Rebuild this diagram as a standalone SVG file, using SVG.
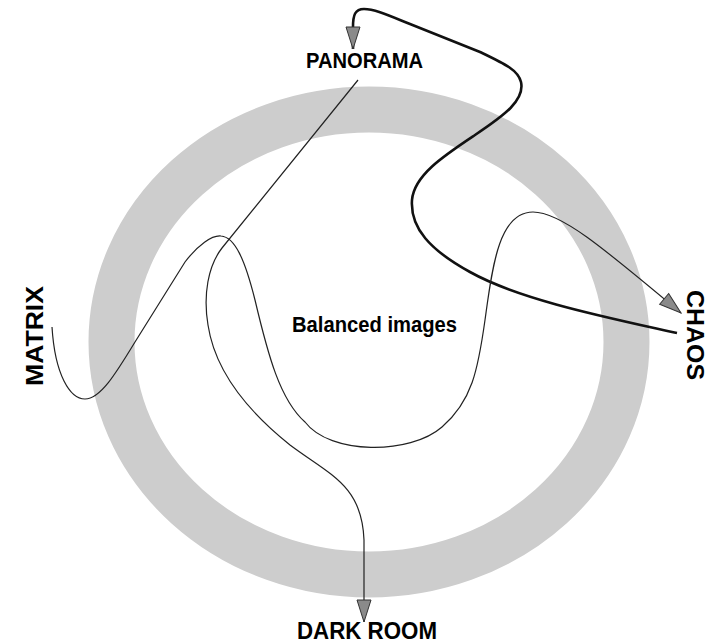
<svg xmlns="http://www.w3.org/2000/svg" width="719" height="644" viewBox="0 0 719 644">
<style>
.lbl{font-family:"Liberation Sans",Arial,sans-serif;font-weight:bold;fill:#000;}
.thin{fill:none;stroke:#222;stroke-width:1.2;}
.thick{fill:none;stroke:#111;stroke-width:2.6;}
</style>
<defs>
<marker id="arr" markerUnits="userSpaceOnUse" markerWidth="24" markerHeight="16" viewBox="-1 -1 24 16" refX="22" refY="7" orient="auto">
<path d="M0,0 L22,7 L0,14 Z" fill="#8a8a8a" stroke="#333" stroke-width="1"/>
</marker>
</defs>
<rect width="719" height="644" fill="#fff"/>
<g id="ring">
<ellipse cx="369" cy="342" rx="257.5" ry="232.5" fill="none" stroke="#cdcdcd" stroke-width="46"/>
</g>
<g id="connectors">
<path class="thick" marker-end="url(#arr)" d="M677,333 C610,318 520,300 470,272 C430,250 410,228 412,200 C414,175 445,155 475,135 C505,115 525,100 521,82 C518,70 505,64 480,52 L410,24 C390,16 375,9 364,9 C355,9 353,15 353,27 L353,49"/>
<path class="thin" marker-end="url(#arr)" d="M358,80 L222,248 C208,266 203,295 208,325 C214,365 240,405 290,445 C330,475 362,485 364,540 L364,622"/>
<path class="thin" marker-end="url(#arr)" d="M52,327 C55,375 70,399 85,399 C100,399 115,375 135,342 L185,262 C198,245 212,235 221,236 C235,237 245,260 255,300 C268,355 280,400 305,422 C330,455 410,455 442,427 C472,401 478,370 485,320 C492,270 498,212 533,212 C560,212 600,245 681,313"/>
</g>
<g id="panorama"><text class="lbl" x="364.5" y="68" font-size="22" text-anchor="middle" textLength="117" lengthAdjust="spacingAndGlyphs">PANORAMA</text></g>
<g id="balanced"><text class="lbl" x="374.5" y="332" font-size="22" text-anchor="middle" textLength="165" lengthAdjust="spacingAndGlyphs">Balanced images</text></g>
<g id="darkroom"><text class="lbl" x="367" y="639" font-size="23" text-anchor="middle" textLength="140" lengthAdjust="spacingAndGlyphs">DARK ROOM</text></g>
<g id="matrix"><text class="lbl" transform="translate(43,336) rotate(-90)" x="0" y="0" font-size="23" text-anchor="middle" textLength="100" lengthAdjust="spacingAndGlyphs">MATRIX</text></g>
<g id="chaos"><text class="lbl" transform="translate(687,335) rotate(90)" x="0" y="0" font-size="23" text-anchor="middle" textLength="90" lengthAdjust="spacingAndGlyphs">CHAOS</text></g>
</svg>
